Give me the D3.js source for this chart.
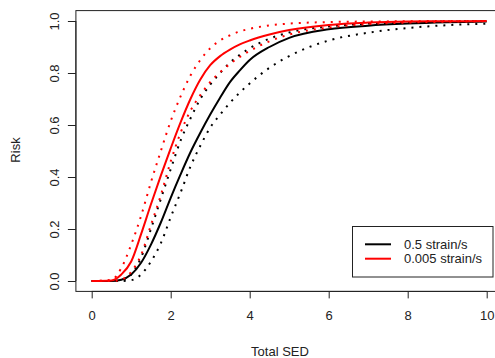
<!DOCTYPE html>
<html><head><meta charset="utf-8">
<script src="https://cdn.jsdelivr.net/npm/d3@7"></script>
<style>body{margin:0;background:#fff;} svg{display:block;font-family:"Liberation Sans",Arial,sans-serif;}</style>
</head><body>
<script>
const xValues = [0, 0.5, 0.75, 1, 1.25, 1.5, 1.75, 2, 2.25, 2.5, 2.75, 3, 3.25, 3.5, 3.75, 4, 4.5, 5, 6, 7, 8, 9, 10];
const blackSolid   = [0, 0, 0.005, 0.025, 0.07, 0.14, 0.225, 0.32, 0.41, 0.495, 0.57, 0.64, 0.705, 0.765, 0.81, 0.85, 0.9, 0.935, 0.968, 0.982, 0.99, 0.995, 0.998];
const blackLower   = [0, 0, 0, 0.003, 0.025, 0.075, 0.145, 0.245, 0.34, 0.44, 0.52, 0.59, 0.64, 0.685, 0.725, 0.76, 0.82, 0.865, 0.925, 0.955, 0.973, 0.984, 0.99];
const blackUpper   = [0, 0, 0.003, 0.025, 0.09, 0.2, 0.315, 0.43, 0.54, 0.625, 0.7, 0.755, 0.8, 0.84, 0.87, 0.895, 0.932, 0.956, 0.979, 0.99, 0.995, 0.998, 0.999];
const redSolid     = [0, 0.002, 0.025, 0.075, 0.18, 0.295, 0.405, 0.51, 0.61, 0.7, 0.775, 0.83, 0.865, 0.89, 0.91, 0.925, 0.948, 0.965, 0.985, 0.994, 0.998, 0.999, 1.0];
const redUpper     = [0, 0.005, 0.05, 0.14, 0.25, 0.38, 0.5, 0.615, 0.71, 0.79, 0.85, 0.895, 0.925, 0.945, 0.96, 0.97, 0.983, 0.99, 0.996, 0.998, 0.999, 1, 1];
const redLower     = [0, 0, 0.005, 0.035, 0.1, 0.215, 0.33, 0.46, 0.57, 0.655, 0.715, 0.765, 0.803, 0.835, 0.862, 0.885, 0.922, 0.948, 0.975, 0.988, 0.994, 0.997, 0.999];
const xTicks = [0, 2, 4, 6, 8, 10];
const yTicks = [0, 0.2, 0.4, 0.6, 0.8, 1.0];
const legendLabels = ["0.5 strain/s", "0.005 strain/s"];
const legendColors = ["#000000", "#ff0000"];

const W = 495, H = 358;
const svg = d3.select("body").append("svg").attr("width", W).attr("height", H);
const x = d3.scaleLinear().domain([-0.4, 10.4]).range([75.9, 502.5]);
const y = d3.scaleLinear().domain([-0.04, 1.04]).range([291.4, 10.6]);

const line = vals => d3.line().x((d, i) => x(xValues[i])).y(d => y(d)).curve(d3.curveMonotoneX)(vals);

const series = [
  {v: blackLower, c: "#000", dash: "2,6"},
  {v: blackUpper, c: "#000", dash: "2,6"},
  {v: blackSolid, c: "#000", dash: null},
  {v: redLower, c: "#ff0000", dash: "2,6"},
  {v: redUpper, c: "#ff0000", dash: "2,6"},
  {v: redSolid, c: "#ff0000", dash: null}
];
svg.append("g").selectAll("path").data(series).join("path")
  .attr("d", d => line(d.v)).attr("fill", "none").attr("stroke", d => d.c)
  .attr("stroke-width", 2).attr("stroke-dasharray", d => d.dash);

// box
svg.append("rect").attr("x", 75.9).attr("y", 10.6).attr("width", 502.5 - 75.9).attr("height", 291.4 - 10.6)
  .attr("fill", "none").attr("stroke", "#222").attr("stroke-width", 1);

// x axis
const xa = svg.append("g").attr("transform", "translate(0,291.4)")
  .call(d3.axisBottom(x).tickValues(xTicks).tickFormat(d3.format("d")).tickSize(7).tickPadding(12));
xa.select(".domain").attr("d", `M${x(0)},0H${x(10)}`).attr("stroke", "#222");
xa.selectAll("line").attr("stroke", "#222");
xa.selectAll("text").attr("font-size", 13).attr("fill", "#222").attr("font-family", "Liberation Sans, Arial, sans-serif");

// y axis
const ya = svg.append("g").attr("transform", "translate(75.9,0)")
  .call(d3.axisLeft(y).tickValues(yTicks).tickFormat(d3.format(".1f")).tickSize(8).tickPadding(0));
ya.select(".domain").attr("d", `M0,${y(0)}V${y(1)}`).attr("stroke", "#222");
ya.selectAll("line").attr("stroke", "#222");
ya.selectAll("text").attr("font-size", 13).attr("fill", "#222").attr("font-family", "Liberation Sans, Arial, sans-serif")
  .attr("x", null).attr("dy", null).attr("text-anchor", "middle")
  .attr("transform", "translate(-21,0) rotate(-90)").attr("dy", "0.35em");

// titles
svg.append("text").attr("x", 280).attr("y", 356).attr("text-anchor", "middle")
  .attr("font-size", 13).attr("fill", "#222").text("Total SED");
svg.append("text").attr("transform", "translate(20,150) rotate(-90)").attr("text-anchor", "middle")
  .attr("font-size", 13).attr("fill", "#222").text("Risk");

// legend
const lg = svg.append("g");
lg.append("rect").attr("x", 352.5).attr("y", 226.5).attr("width", 140.5).attr("height", 50.5)
  .attr("fill", "#fff").attr("stroke", "#222").attr("stroke-width", 1);
legendLabels.forEach((lab, i) => {
  const yy = 244.3 + i * 14.4;
  lg.append("line").attr("x1", 365).attr("x2", 391).attr("y1", yy).attr("y2", yy)
    .attr("stroke", legendColors[i]).attr("stroke-width", 2);
  lg.append("text").attr("x", 404).attr("y", yy).attr("dy", "0.35em").attr("font-size", 13)
    .attr("fill", "#222").text(lab);
});
</script>
</body></html>
